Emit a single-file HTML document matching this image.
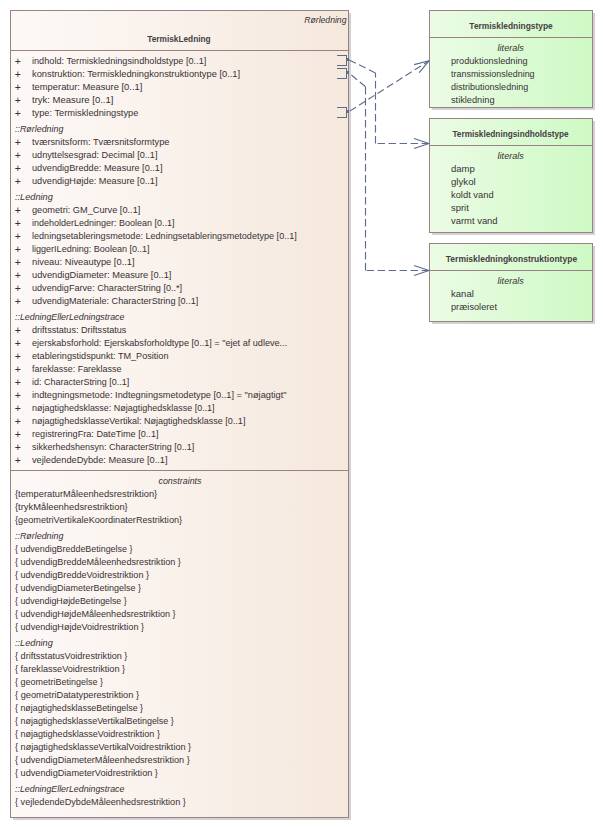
<!DOCTYPE html>
<html lang="da">
<head>
<meta charset="utf-8">
<title>TermiskLedning</title>
<style>
html,body{margin:0;padding:0;background:#fff;}
body{width:603px;height:828px;position:relative;overflow:hidden;font-family:"Liberation Sans",sans-serif;font-size:9.5px;color:#383134;}
.box{position:absolute;border:1px solid #9a8183;box-sizing:content-box;}
.main{background:linear-gradient(to right,#fdf9f7 0%,#f5e8dd 100%);}
.enum{background:linear-gradient(to right,#ebfce5 0%,#cef9c4 100%);}
.shr{position:absolute;width:2px;background:#d2d2d2;}
.shb{position:absolute;height:2px;background:#d2d2d2;}
.sep{position:absolute;height:1px;background:#9a8183;}
.r{position:absolute;left:15px;height:13px;line-height:13px;white-space:nowrap;}
.r .p{position:absolute;left:-0.3px;top:1px;font-size:10.5px;}
.r .t{position:absolute;left:17px;top:0;}
.s{display:inline-block;white-space:pre;}
.h{font-style:italic;}
.lit{font-style:italic;text-align:center;}
.b{font-weight:bold;font-size:8.9px;text-align:center;color:#454044;}
svg{position:absolute;left:0;top:0;}
</style>
</head>
<body>
<div class="box main" style="left:10px;top:10px;width:337px;height:806px"></div>
<div class="shr" style="left:349px;top:13px;height:807px"></div>
<div class="shb" style="left:13px;top:818px;width:336px"></div>
<div class="sep" style="left:11px;top:50px;width:337px"></div>
<div class="sep" style="left:11px;top:470px;width:337px"></div>
<div class="r h" style="left:200px;width:146.5px;text-align:right;top:13px"><span class="s" style="transform:scaleX(0.9082);transform-origin:100% 50%">Rørledning</span></div>
<div class="r b" style="left:9.3px;width:339px;top:33px"><span class="s" style="transform:scaleX(0.9342);transform-origin:50% 50%">TermiskLedning</span></div>
<div class="r" style="top:54px"><span class="p">+</span><span class="t"><span class="s" style="transform:scaleX(0.9632);transform-origin:0 50%">indhold: Termiskledningsindholdstype [0..1]</span></span></div>
<div class="r" style="top:67px"><span class="p">+</span><span class="t"><span class="s" style="transform:scaleX(0.9787);transform-origin:0 50%">konstruktion: Termiskledningkonstruktiontype [0..1]</span></span></div>
<div class="r" style="top:80px"><span class="p">+</span><span class="t"><span class="s" style="transform:scaleX(0.9853);transform-origin:0 50%">temperatur: Measure [0..1]</span></span></div>
<div class="r" style="top:93px"><span class="p">+</span><span class="t"><span class="s" style="transform:scaleX(1.0011);transform-origin:0 50%">tryk: Measure [0..1]</span></span></div>
<div class="r" style="top:106px"><span class="p">+</span><span class="t"><span class="s" style="transform:scaleX(0.9741);transform-origin:0 50%">type: Termiskledningstype</span></span></div>
<div class="r h" style="top:122px"><span class="s" style="transform:scaleX(0.9354);transform-origin:0 50%">::Rørledning</span></div>
<div class="r" style="top:135px"><span class="p">+</span><span class="t"><span class="s" style="transform:scaleX(0.9731);transform-origin:0 50%">tværsnitsform: Tværsnitsformtype</span></span></div>
<div class="r" style="top:148px"><span class="p">+</span><span class="t"><span class="s" style="transform:scaleX(0.9622);transform-origin:0 50%">udnyttelsesgrad: Decimal [0..1]</span></span></div>
<div class="r" style="top:161px"><span class="p">+</span><span class="t"><span class="s" style="transform:scaleX(0.9652);transform-origin:0 50%">udvendigBredde: Measure [0..1]</span></span></div>
<div class="r" style="top:174px"><span class="p">+</span><span class="t"><span class="s" style="transform:scaleX(0.9661);transform-origin:0 50%">udvendigHøjde: Measure [0..1]</span></span></div>
<div class="r h" style="top:190px"><span class="s" style="transform:scaleX(0.9670);transform-origin:0 50%">::Ledning</span></div>
<div class="r" style="top:203px"><span class="p">+</span><span class="t"><span class="s" style="transform:scaleX(0.9676);transform-origin:0 50%">geometri: GM_Curve [0..1]</span></span></div>
<div class="r" style="top:216px"><span class="p">+</span><span class="t"><span class="s" style="transform:scaleX(0.9460);transform-origin:0 50%">indeholderLedninger: Boolean [0..1]</span></span></div>
<div class="r" style="top:229px"><span class="p">+</span><span class="t"><span class="s" style="transform:scaleX(0.9550);transform-origin:0 50%">ledningsetableringsmetode: Ledningsetableringsmetodetype [0..1]</span></span></div>
<div class="r" style="top:242px"><span class="p">+</span><span class="t"><span class="s" style="transform:scaleX(0.9515);transform-origin:0 50%">liggerILedning: Boolean [0..1]</span></span></div>
<div class="r" style="top:255px"><span class="p">+</span><span class="t"><span class="s" style="transform:scaleX(0.9812);transform-origin:0 50%">niveau: Niveautype [0..1]</span></span></div>
<div class="r" style="top:268px"><span class="p">+</span><span class="t"><span class="s" style="transform:scaleX(0.9741);transform-origin:0 50%">udvendigDiameter: Measure [0..1]</span></span></div>
<div class="r" style="top:281px"><span class="p">+</span><span class="t"><span class="s" style="transform:scaleX(0.9571);transform-origin:0 50%">udvendigFarve: CharacterString [0..*]</span></span></div>
<div class="r" style="top:294px"><span class="p">+</span><span class="t"><span class="s" style="transform:scaleX(0.9601);transform-origin:0 50%">udvendigMateriale: CharacterString [0..1]</span></span></div>
<div class="r h" style="top:310px"><span class="s" style="transform:scaleX(0.9289);transform-origin:0 50%">::LedningEllerLedningstrace</span></div>
<div class="r" style="top:323px"><span class="p">+</span><span class="t"><span class="s" style="transform:scaleX(0.9562);transform-origin:0 50%">driftsstatus: Driftsstatus</span></span></div>
<div class="r" style="top:336px"><span class="p">+</span><span class="t"><span class="s" style="transform:scaleX(0.9591);transform-origin:0 50%">ejerskabsforhold: Ejerskabsforholdtype [0..1] = &quot;ejet af udleve...</span></span></div>
<div class="r" style="top:349px"><span class="p">+</span><span class="t"><span class="s" style="transform:scaleX(0.9585);transform-origin:0 50%">etableringstidspunkt: TM_Position</span></span></div>
<div class="r" style="top:362px"><span class="p">+</span><span class="t"><span class="s" style="transform:scaleX(0.9407);transform-origin:0 50%">fareklasse: Fareklasse</span></span></div>
<div class="r" style="top:375px"><span class="p">+</span><span class="t"><span class="s" style="transform:scaleX(0.9450);transform-origin:0 50%">id: CharacterString [0..1]</span></span></div>
<div class="r" style="top:388px"><span class="p">+</span><span class="t"><span class="s" style="transform:scaleX(0.9710);transform-origin:0 50%">indtegningsmetode: Indtegningsmetodetype [0..1] = &quot;nøjagtigt&quot;</span></span></div>
<div class="r" style="top:401px"><span class="p">+</span><span class="t"><span class="s" style="transform:scaleX(0.9448);transform-origin:0 50%">nøjagtighedsklasse: Nøjagtighedsklasse [0..1]</span></span></div>
<div class="r" style="top:414px"><span class="p">+</span><span class="t"><span class="s" style="transform:scaleX(0.9509);transform-origin:0 50%">nøjagtighedsklasseVertikal: Nøjagtighedsklasse [0..1]</span></span></div>
<div class="r" style="top:427px"><span class="p">+</span><span class="t"><span class="s" style="transform:scaleX(0.9610);transform-origin:0 50%">registreringFra: DateTime [0..1]</span></span></div>
<div class="r" style="top:440px"><span class="p">+</span><span class="t"><span class="s" style="transform:scaleX(0.9457);transform-origin:0 50%">sikkerhedshensyn: CharacterString [0..1]</span></span></div>
<div class="r" style="top:453px"><span class="p">+</span><span class="t"><span class="s" style="transform:scaleX(0.9719);transform-origin:0 50%">vejledendeDybde: Measure [0..1]</span></span></div>
<div class="r lit" style="top:474px;left:10px;width:339px"><span class="s" style="transform:scaleX(0.9382);transform-origin:50% 50%">constraints</span></div>
<div class="r c" style="top:487px"><span class="s" style="transform:scaleX(0.9792);transform-origin:0 50%">{temperaturMåleenhedsrestriktion}</span></div>
<div class="r c" style="top:500px"><span class="s" style="transform:scaleX(0.9835);transform-origin:0 50%">{trykMåleenhedsrestriktion}</span></div>
<div class="r c" style="top:513px"><span class="s" style="transform:scaleX(0.9618);transform-origin:0 50%">{geometriVertikaleKoordinaterRestriktion}</span></div>
<div class="r h" style="top:529px"><span class="s" style="transform:scaleX(0.9354);transform-origin:0 50%">::Rørledning</span></div>
<div class="r c" style="top:542px"><span class="s" style="transform:scaleX(0.9378);transform-origin:0 50%">{ udvendigBreddeBetingelse }</span></div>
<div class="r c" style="top:555px"><span class="s" style="transform:scaleX(0.9542);transform-origin:0 50%">{ udvendigBreddeMåleenhedsrestriktion }</span></div>
<div class="r c" style="top:568px"><span class="s" style="transform:scaleX(0.9538);transform-origin:0 50%">{ udvendigBreddeVoidrestriktion }</span></div>
<div class="r c" style="top:581px"><span class="s" style="transform:scaleX(0.9467);transform-origin:0 50%">{ udvendigDiameterBetingelse }</span></div>
<div class="r c" style="top:594px"><span class="s" style="transform:scaleX(0.9317);transform-origin:0 50%">{ udvendigHøjdeBetingelse }</span></div>
<div class="r c" style="top:607px"><span class="s" style="transform:scaleX(0.9527);transform-origin:0 50%">{ udvendigHøjdeMåleenhedsrestriktion }</span></div>
<div class="r c" style="top:620px"><span class="s" style="transform:scaleX(0.9542);transform-origin:0 50%">{ udvendigHøjdeVoidrestriktion }</span></div>
<div class="r h" style="top:636px"><span class="s" style="transform:scaleX(0.9670);transform-origin:0 50%">::Ledning</span></div>
<div class="r c" style="top:649px"><span class="s" style="transform:scaleX(0.9588);transform-origin:0 50%">{ driftsstatusVoidrestriktion }</span></div>
<div class="r c" style="top:662px"><span class="s" style="transform:scaleX(0.9608);transform-origin:0 50%">{ fareklasseVoidrestriktion }</span></div>
<div class="r c" style="top:675px"><span class="s" style="transform:scaleX(0.9457);transform-origin:0 50%">{ geometriBetingelse }</span></div>
<div class="r c" style="top:688px"><span class="s" style="transform:scaleX(0.9704);transform-origin:0 50%">{ geometriDatatyperestriktion }</span></div>
<div class="r c" style="top:701px"><span class="s" style="transform:scaleX(0.9322);transform-origin:0 50%">{ nøjagtighedsklasseBetingelse }</span></div>
<div class="r c" style="top:714px"><span class="s" style="transform:scaleX(0.9426);transform-origin:0 50%">{ nøjagtighedsklasseVertikalBetingelse }</span></div>
<div class="r c" style="top:727px"><span class="s" style="transform:scaleX(0.9494);transform-origin:0 50%">{ nøjagtighedsklasseVoidrestriktion }</span></div>
<div class="r c" style="top:740px"><span class="s" style="transform:scaleX(0.9583);transform-origin:0 50%">{ nøjagtighedsklasseVertikalVoidrestriktion }</span></div>
<div class="r c" style="top:753px"><span class="s" style="transform:scaleX(0.9622);transform-origin:0 50%">{ udvendigDiameterMåleenhedsrestriktion }</span></div>
<div class="r c" style="top:766px"><span class="s" style="transform:scaleX(0.9630);transform-origin:0 50%">{ udvendigDiameterVoidrestriktion }</span></div>
<div class="r h" style="top:782px"><span class="s" style="transform:scaleX(0.9289);transform-origin:0 50%">::LedningEllerLedningstrace</span></div>
<div class="r c" style="top:795px"><span class="s" style="transform:scaleX(0.9597);transform-origin:0 50%">{ vejledendeDybdeMåleenhedsrestriktion }</span></div>
<div class="box enum" style="left:429px;top:10px;width:162px;height:96px"></div>
<div class="shr" style="left:593px;top:13px;height:97px"></div>
<div class="shb" style="left:432px;top:108px;width:161px"></div>
<div class="sep" style="left:430px;top:37px;width:162px"></div>
<div class="r b" style="left:429px;width:164px;top:20px"><span class="s" style="transform:scaleX(0.9461);transform-origin:50% 50%">Termiskledningstype</span></div>
<div class="r lit" style="left:429px;width:164px;top:41px"><span class="s" style="transform:scaleX(0.9580);transform-origin:50% 50%">literals</span></div>
<div class="r" style="left:451px;top:54px"><span class="s" style="transform:scaleX(0.9605);transform-origin:0 50%">produktionsledning</span></div>
<div class="r" style="left:451px;top:67px"><span class="s" style="transform:scaleX(0.9424);transform-origin:0 50%">transmissionsledning</span></div>
<div class="r" style="left:451px;top:80px"><span class="s" style="transform:scaleX(0.9492);transform-origin:0 50%">distributionsledning</span></div>
<div class="r" style="left:451px;top:93px"><span class="s" style="transform:scaleX(0.9691);transform-origin:0 50%">stikledning</span></div>
<div class="box enum" style="left:429px;top:118px;width:162px;height:113px"></div>
<div class="shr" style="left:593px;top:121px;height:114px"></div>
<div class="shb" style="left:432px;top:233px;width:161px"></div>
<div class="sep" style="left:430px;top:145px;width:162px"></div>
<div class="r b" style="left:429px;width:164px;top:128px"><span class="s" style="transform:scaleX(0.9295);transform-origin:50% 50%">Termiskledningsindholdstype</span></div>
<div class="r lit" style="left:429px;width:164px;top:149px"><span class="s" style="transform:scaleX(0.9580);transform-origin:50% 50%">literals</span></div>
<div class="r" style="left:451px;top:162px"><span class="s" style="transform:scaleX(1.0015);transform-origin:0 50%">damp</span></div>
<div class="r" style="left:451px;top:175px"><span class="s" style="transform:scaleX(1.0169);transform-origin:0 50%">glykol</span></div>
<div class="r" style="left:451px;top:188px"><span class="s" style="transform:scaleX(0.9837);transform-origin:0 50%">koldt vand</span></div>
<div class="r" style="left:451px;top:201px"><span class="s" style="transform:scaleX(0.9917);transform-origin:0 50%">sprit</span></div>
<div class="r" style="left:451px;top:214px"><span class="s" style="transform:scaleX(0.9917);transform-origin:0 50%">varmt vand</span></div>
<div class="box enum" style="left:429px;top:243px;width:162px;height:77px"></div>
<div class="shr" style="left:593px;top:246px;height:78px"></div>
<div class="shb" style="left:432px;top:322px;width:161px"></div>
<div class="sep" style="left:430px;top:270px;width:162px"></div>
<div class="r b" style="left:429px;width:164px;top:253px"><span class="s" style="transform:scaleX(0.9591);transform-origin:50% 50%">Termiskledningkonstruktiontype</span></div>
<div class="r lit" style="left:429px;width:164px;top:274px"><span class="s" style="transform:scaleX(0.9580);transform-origin:50% 50%">literals</span></div>
<div class="r" style="left:451px;top:287px"><span class="s" style="transform:scaleX(1.0083);transform-origin:0 50%">kanal</span></div>
<div class="r" style="left:451px;top:300px"><span class="s" style="transform:scaleX(0.9680);transform-origin:0 50%">præisoleret</span></div>
<svg width="603" height="828" viewBox="0 0 603 828" fill="none" stroke="#5d6c8d" stroke-width="1" stroke-linejoin="round">
<g shape-rendering="crispEdges">
<path d="M337 55.5H346.5V65.5H337"/>
<path d="M337 68.5H346.5V78.5H337"/>
<path d="M337 107.5H346.5V117.5H337"/>
<rect x="347" y="58" width="2" height="3" fill="#5d6c8d" stroke="none"/>
<rect x="347" y="71" width="2" height="3" fill="#5d6c8d" stroke="none"/>
<rect x="347" y="110" width="2" height="3" fill="#5d6c8d" stroke="none"/>
</g>
<g stroke-dasharray="7.4 3.6" stroke-width="1.15">
<path d="M429 143.5H375.5"/>
<path d="M375.5 143.5V73"/>
<path d="M375.5 73L349 59.8"/>
<path d="M429 270.5H365.5"/>
<path d="M365.5 270.5V86.8"/>
<path d="M365.5 86.8L349 73"/>
<path d="M429 60.8L349 111.6" stroke-dashoffset="1.5"/>
</g>
<g stroke-width="1.15">
<path d="M414 138.5L429 143.5L414 148.5"/>
<path d="M414 265.5L429 270.5L414 275.5"/>
<path d="M414.1 64.6L429 60.8L419.2 72.7"/>
</g>
</svg>
</body>
</html>
